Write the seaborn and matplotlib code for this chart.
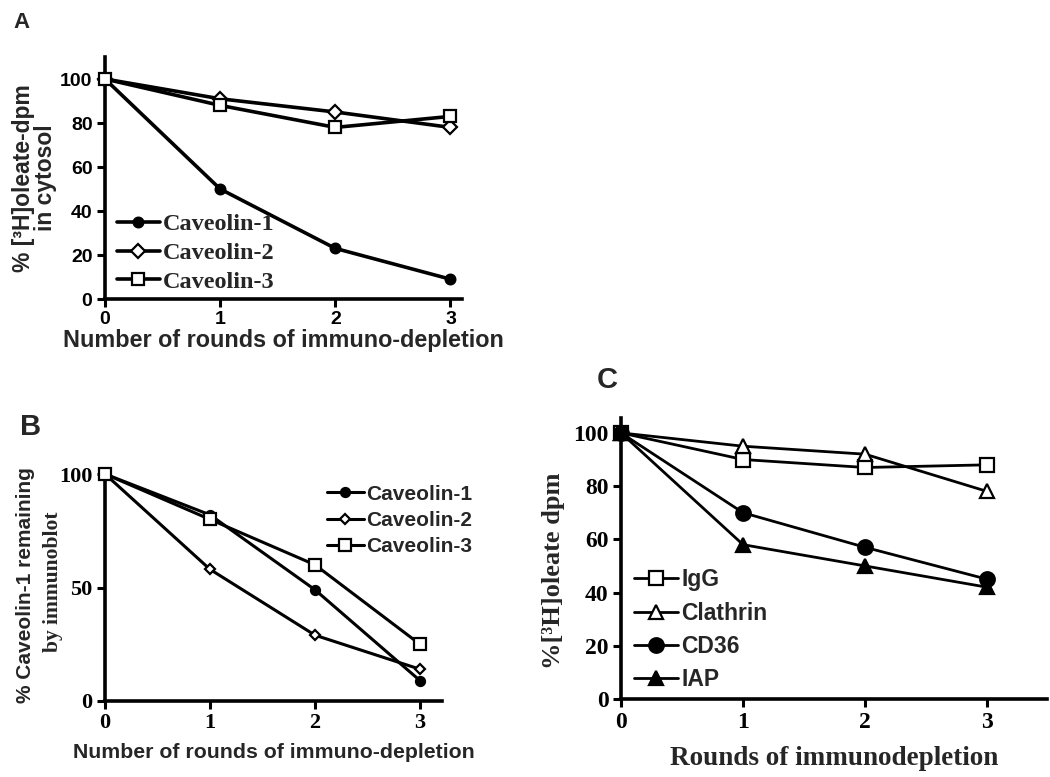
import matplotlib
matplotlib.use("Agg")
import matplotlib.pyplot as plt
import seaborn as sns
import pandas as pd

sns.set_theme(style="ticks")
plt.rcParams['font.family'] = ['Liberation Sans', 'DejaVu Sans']

rounds = [0, 1, 2, 3]

# Panel A
a_labels = ["Caveolin-1", "Caveolin-2", "Caveolin-3"]
a_cav1 = [100, 50, 23, 9]
a_cav2 = [100, 91, 85, 78]
a_cav3 = [100, 88, 78, 83]

# Panel B
b_labels = ["Caveolin-1", "Caveolin-2", "Caveolin-3"]
b_cav1 = [100, 82, 49, 9]
b_cav2 = [100, 58, 29, 14]
b_cav3 = [100, 80, 60, 25]

# Panel C
c_labels = ["IgG", "Clathrin", "CD36", "IAP"]
c_igg = [100, 90, 87, 88]
c_clathrin = [100, 95, 92, 78]
c_cd36 = [100, 70, 57, 45]
c_iap = [100, 58, 50, 42]

SANS = 'Liberation Sans'
SERIF = 'Liberation Serif'

fig = plt.figure(figsize=(10.5, 7.77), dpi=100)
W, H = 1050, 777

def add_axes(x0, x1, y_top, y_bot):
    return fig.add_axes([x0 / W, 1 - y_bot / H, (x1 - x0) / W, (y_bot - y_top) / H])

def style_axes(ax, tickfont, ticksize):
    for s in ['top', 'right']:
        ax.spines[s].set_visible(False)
    for s in ['left', 'bottom']:
        ax.spines[s].set_linewidth(2.6)
        ax.spines[s].set_color('black')
    ax.tick_params(axis='both', direction='out', length=6, width=2.2, colors='black', pad=3)
    for lab in ax.get_xticklabels() + ax.get_yticklabels():
        lab.set_fontfamily(tickfont)
        lab.set_fontweight('bold')
        lab.set_fontsize(ticksize)
    ax.set_facecolor('white')
    ax.grid(False)

def draw(ax, ys, labels, markers, fills, msizes, lw=2.2):
    for y, lab, m, f, ms in zip(ys, labels, markers, fills, msizes):
        df = pd.DataFrame({'x': rounds, 'y': y})
        sns.lineplot(data=df, x='x', y='y', ax=ax, color='black', linewidth=lw,
                     marker=m, markersize=ms, markeredgecolor='black',
                     markerfacecolor=('black' if f else 'white'), markeredgewidth=1.6,
                     label=lab, clip_on=False, zorder=3)

# ---------- Panel A ----------
axA = add_axes(105, 462, 57, 299)
draw(axA, [a_cav1, a_cav2, a_cav3], a_labels, ['o', 'D', 's'], [True, False, False], [7, 7, 8], lw=2.6)
axA.set_xlim(0, 3.1)
axA.set_ylim(0, 110)
axA.set_xticks([0, 1, 2, 3])
axA.set_yticks([0, 20, 40, 60, 80, 100])
style_axes(axA, SANS, 14)
axA.set_xlabel("Number of rounds of immuno-depletion", fontsize=16.8, fontweight='bold', fontfamily=SANS, labelpad=0)
axA.set_ylabel("% [³H]oleate-dpm\nin cytosol", fontsize=16.5, fontweight='bold', fontfamily=SANS, labelpad=2, linespacing=0.95)
legA = axA.legend(loc='lower left', bbox_to_anchor=(0.005, -0.015), frameon=False,
                  prop={'family': SERIF, 'weight': 'bold', 'size': 17.5},
                  handlelength=1.8, handletextpad=0.1, labelspacing=0.28, borderaxespad=0)

# ---------- Panel B ----------
axB = add_axes(105, 442, 474, 701)
draw(axB, [b_cav1, b_cav2, b_cav3], b_labels, ['o', 'D', 's'], [True, False, False], [6.5, 5.5, 8], lw=2.2)
axB.set_xlim(0, 3.21)
axB.set_ylim(0, 100)
axB.set_xticks([0, 1, 2, 3])
axB.set_yticks([0, 50, 100])
style_axes(axB, SERIF, 16)
axB.set_xlabel("Number of rounds of immuno-depletion", fontsize=15.3, fontweight='bold', fontfamily=SANS, labelpad=7)
axB.set_ylabel("")
fig.text(26 / W, 1 - 585 / H, "% Caveolin-1 remaining", rotation=90, ha='center', va='center',
         fontsize=15, fontweight='bold', fontfamily=SANS)
fig.text(53 / W, 1 - 582 / H, "by immunoblot", rotation=90, ha='center', va='center',
         fontsize=15.5, fontweight='bold', fontfamily=SERIF)
legB = axB.legend(loc='upper right', bbox_to_anchor=(1.115, 0.99), frameon=False,
                  prop={'family': SANS, 'weight': 'bold', 'size': 15},
                  handlelength=1.8, handletextpad=0.1, labelspacing=0.35, borderaxespad=0)

# ---------- Panel C ----------
axC = add_axes(621, 1047, 418, 699)
draw(axC, [c_igg, c_clathrin, c_cd36, c_iap], c_labels, ['s', '^', 'o', '^'],
     [False, False, True, True], [10.5, 10.5, 10.5, 9.5], lw=2.0)
axC.set_xlim(0, 3.49)
axC.set_ylim(0, 105.6)
axC.set_xticks([0, 1, 2, 3])
axC.set_yticks([0, 20, 40, 60, 80, 100])
style_axes(axC, SERIF, 17)
axC.set_xlabel("Rounds of immunodepletion", fontsize=19.5, fontweight='bold', fontfamily=SERIF, labelpad=10)
axC.set_ylabel("%[³H]oleate dpm", fontsize=19, fontweight='bold', fontfamily=SERIF)
axC.yaxis.set_label_coords(-56 / 426, 0.455)
legC = axC.legend(loc='lower left', bbox_to_anchor=(0.01, -0.005), frameon=False,
                  prop={'family': SANS, 'weight': 'bold', 'size': 16.5},
                  handlelength=1.9, handletextpad=0.15, labelspacing=0.45, borderaxespad=0)

# Panel letters
fig.text(22 / W, 1 - 23 / H, "A", ha='center', va='center', fontsize=16, fontweight='bold', fontfamily=SANS)
fig.text(31 / W, 1 - 427 / H, "B", ha='center', va='center', fontsize=21, fontweight='bold', fontfamily=SANS)
fig.text(607 / W, 1 - 380 / H, "C", ha='center', va='center', fontsize=21, fontweight='bold', fontfamily=SANS)

fig.savefig("out.png", dpi=100, facecolor='white')
